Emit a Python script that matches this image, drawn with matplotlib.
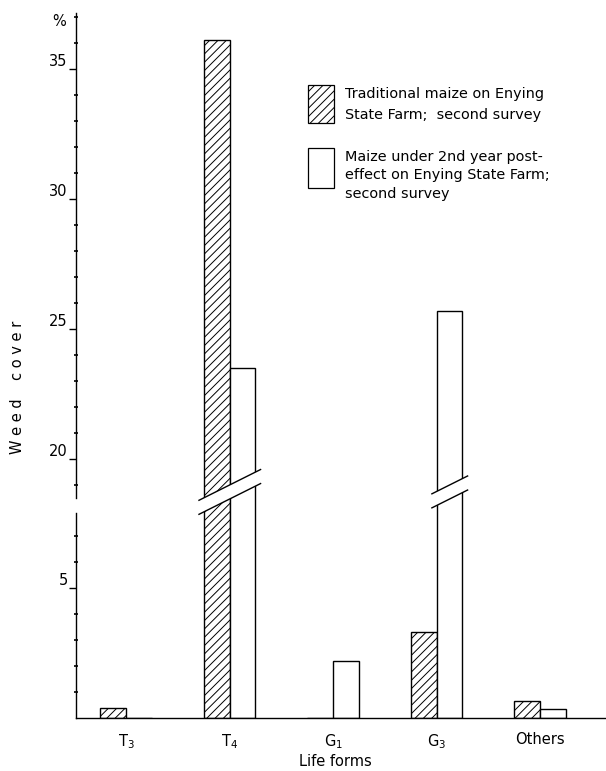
import numpy as np
import matplotlib
matplotlib.use('Agg')
import matplotlib.pyplot as plt
from matplotlib.patches import Rectangle, Polygon
from matplotlib.ticker import FixedLocator, NullFormatter

# ---------------- data ----------------
categories = ['T$_3$', 'T$_4$', 'G$_1$', 'G$_3$', 'Others']
traditional = [0.4, 36.1, 0.0, 3.3, 0.65]     # hatched bars
post_effect = [0.0, 23.5, 2.2, 25.7, 0.35]    # open bars
legend_labels = ['Traditional maize on Enying\nState Farm;  second survey',
                 'Maize under 2nd year post-\neffect on Enying State Farm;\nsecond survey']
major_ticks = [5, 20, 25, 30, 35]
minor_ticks = [1, 2, 3, 4, 6, 7, 19, 21, 22, 23, 24, 26, 27, 28, 29,
               31, 32, 33, 34, 36, 37]

# ---------------- broken scale ----------------
LOW_TOP = 7.9
HIGH_BOT = 18.5
GAP = 0.58
Y_TOP = 37.15


def fwd(y):
    y = np.asarray(y, float)
    return np.where(y <= LOW_TOP, y,
                    np.where(y >= HIGH_BOT, y - HIGH_BOT + LOW_TOP + GAP,
                             LOW_TOP + (y - LOW_TOP) * GAP / (HIGH_BOT - LOW_TOP)))


def inv(s):
    s = np.asarray(s, float)
    return np.where(s <= LOW_TOP, s,
                    np.where(s >= LOW_TOP + GAP, s - LOW_TOP - GAP + HIGH_BOT,
                             LOW_TOP + (s - LOW_TOP) * (HIGH_BOT - LOW_TOP) / GAP))


W, H = 606, 771
plt.rcParams['font.family'] = ['DejaVu Sans']
plt.rcParams['hatch.linewidth'] = 0.7
plt.rcParams['hatch.color'] = 'black'
HATCH = '////'

fig = plt.figure(figsize=(W / 100, H / 100), dpi=100)
ax = fig.add_axes([76 / W, 1 - 718 / H, 530 / W, 705 / H])
ax.set_yscale('function', functions=(fwd, inv))

x = np.arange(len(categories))
bw = 0.25
ax.bar(x - bw / 2, traditional, width=bw, facecolor='white', edgecolor='black',
       hatch=HATCH, linewidth=1.0, zorder=2)
ax.bar(x + bw / 2, post_effect, width=bw, facecolor='white', edgecolor='black',
       linewidth=1.0, zorder=2)

ax.set_xlim(-0.483, 4.637)
ax.set_ylim(0, Y_TOP)

# break marks across bars that pass the break
S_MID, S_HALF, SLOPE = 8.7, 0.27, 1.99
for i in range(len(categories)):
    lefts = []
    if traditional[i] > HIGH_BOT:
        lefts.append(x[i] - bw)
    if post_effect[i] > HIGH_BOT:
        lefts.append(x[i])
    if not lefts:
        continue
    x0 = min(lefts) - 0.045
    x1 = max(lefts) + bw + 0.05
    xc = (x0 + x1) / 2
    xs = np.array([x0, x1])
    up = S_MID + S_HALF + SLOPE * (xs - xc)
    lo = S_MID - S_HALF + SLOPE * (xs - xc)
    poly = Polygon([(x0, float(inv(up[0]))), (x1, float(inv(up[1]))),
                    (x1, float(inv(lo[1]))), (x0, float(inv(lo[0])))],
                   closed=True, facecolor='white', edgecolor='none', zorder=3)
    ax.add_patch(poly)
    ax.plot(xs, inv(up), color='black', lw=1.0, zorder=4)
    ax.plot(xs, inv(lo), color='black', lw=1.0, zorder=4)

# spines
for sp in ['top', 'right', 'left']:
    ax.spines[sp].set_visible(False)
ax.spines['bottom'].set_linewidth(1.0)
ytr = ax.get_yaxis_transform()
ax.plot([0, 0], [0, LOW_TOP], transform=ytr, color='black', lw=1.0, clip_on=False)
ax.plot([0, 0], [HIGH_BOT, Y_TOP], transform=ytr, color='black', lw=1.0, clip_on=False)

# ticks
ax.yaxis.set_major_locator(FixedLocator(major_ticks))
ax.yaxis.set_minor_locator(FixedLocator(minor_ticks))
ax.yaxis.set_minor_formatter(NullFormatter())
ax.set_yticklabels([str(t) for t in major_ticks])
ax.tick_params(axis='y', which='major', length=5, width=1.0, pad=1, labelsize=10.5)
ax.tick_params(axis='y', which='minor', length=2.5, width=1.2, direction='inout')
for t in ax.get_yticklabels():
    t.set_verticalalignment('bottom')

ax.set_xticks(x)
ax.set_xticklabels(categories)
ax.tick_params(axis='x', length=0, pad=10, labelsize=10.5)

ax.set_xlabel('Life forms', fontsize=10.5)
ax.xaxis.set_label_coords((335 - 76) / 530, (718 - 762) / 705)
ax.xaxis.label.set_verticalalignment('center')
ax.set_ylabel('W e e d    c o v e r', fontsize=10.5)
ax.yaxis.set_label_coords((18 - 76) / 530, (718 - 387) / 705)
ax.yaxis.label.set_verticalalignment('center')

fig.text(59 / W, 1 - 22 / H, '%', ha='center', va='center', fontsize=10.5)

# legend (manual)
fig.add_artist(Rectangle((308 / W, 1 - 123 / H), 26 / W, 38 / H, transform=fig.transFigure,
                         facecolor='white', edgecolor='black', hatch=HATCH, lw=0.9))
fig.add_artist(Rectangle((308 / W, 1 - 188 / H), 26 / W, 40 / H, transform=fig.transFigure,
                         facecolor='white', edgecolor='black', lw=0.9))
fig.text(345 / W, 1 - 104.5 / H, legend_labels[0], ha='left', va='center',
         fontsize=10.4, linespacing=1.7)
fig.text(345 / W, 1 - 175.5 / H, legend_labels[1], ha='left', va='center',
         fontsize=10.4, linespacing=1.42)

fig.savefig('out.png', dpi=100)
